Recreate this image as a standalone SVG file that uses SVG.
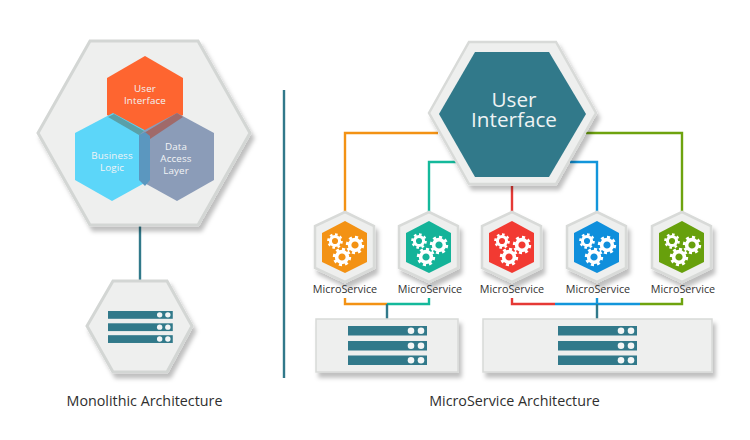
<svg xmlns="http://www.w3.org/2000/svg" xmlns:xlink="http://www.w3.org/1999/xlink" width="750" height="440" viewBox="0 0 750 440">
<style>
text{font-family:"Open Sans","Noto Sans","Liberation Sans",sans-serif;text-anchor:middle}
.plate{fill:#eeefee;stroke:#d3d6d4;stroke-width:3;stroke-linejoin:miter;filter:url(#sh)}
.ms{font-size:10.8px;fill:#333}
.title{font-size:14.3px;fill:#2f2f2f}
.hl{fill:#f2f4f6;font-size:9.8px;letter-spacing:.15px}
.bar{fill:#31798a}
.dot{fill:#f4f6f6}
.link{fill:none;stroke-width:2.4}
.rim{fill:#eeefee;stroke:#d8dad8;stroke-width:2.5;filter:url(#sh)}
</style>
<defs>
<filter id="sh" x="-20%" y="-20%" width="145%" height="145%"><feDropShadow dx="3" dy="5" stdDeviation="2.2" flood-color="#000" flood-opacity=".25"/></filter>
<g id="gear"><circle r="5.4" fill="none" stroke="#fff" stroke-width="3.6"/><circle r="7.8" fill="none" stroke="#fff" stroke-width="2.8" pathLength="16" stroke-dasharray="1 1"/></g>
<g id="gears">
<use xlink:href="#gear" transform="translate(-10,-20) scale(.85)"/>
<use xlink:href="#gear" transform="translate(10,-16)"/>
<use xlink:href="#gear" transform="translate(-3,-4)"/>
</g>
<g id="srv3">
<rect class="bar" x="0" y="0" width="79" height="9.5"/><rect class="bar" x="0" y="15" width="79" height="9.5"/><rect class="bar" x="0" y="29.5" width="79" height="9.5"/>
<circle class="dot" cx="63" cy="4.7" r="3.3"/><circle class="dot" cx="73" cy="4.7" r="3.3"/>
<circle class="dot" cx="63" cy="19.7" r="3.3"/><circle class="dot" cx="73" cy="19.7" r="3.3"/>
<circle class="dot" cx="63" cy="34.2" r="3.3"/><circle class="dot" cx="73" cy="34.2" r="3.3"/>
</g>
</defs>
<rect width="750" height="440" fill="#fff"/>
<g id="connectors">
<path d="M140 226V282M284 90V378" class="link" stroke="#31798a"/>
<path d="M438 133H345V213M345 298V304H387" class="link" stroke="#f39214"/>
<path d="M456 162H429V213M429 298V304H387" class="link" stroke="#14b99b"/>
<path d="M512 186V213M512 298V304H555" class="link" stroke="#e53935"/>
<path d="M570 162H597V213M597 298V304M555 304H640" class="link" stroke="#1296db"/>
<path d="M586 133H682V213M682 298V304H640" class="link" stroke="#6ea30f"/>
<path d="M387 304V319M597 304V319" class="link" stroke="#31798a"/>
</g>
<g id="monolith">
<polygon class="plate" points="90,41 198,41 250,133 198,225 90,225 38,133"/>
<polygon fill="#fe6530" points="145,56 183,78 183,115 150,139 139,135 107,115 107,78"/>
<polygon fill="#5cd6f9" points="113,113 150,133 150,180 112,201 75,180 75,133"/>
<polygon fill="#8b9cb8" points="177,113 214,133 214,180 177,201 139,180 139,133"/>
<polygon fill="#5aa0a8" points="108,117 114,114 144,131 139,135"/>
<polygon fill="#a06a6a" points="177,113 183,117 150,139 144,133"/>
<polygon fill="#5b97bf" points="139,135 145,132 150,136 150,180 145,186 139,180"/>
<text class="hl" x="145" y="91.500">User</text><text class="hl" x="145" y="103.500">Interface</text>
<text class="hl" x="112" y="159">Business</text><text class="hl" x="112" y="171">Logic</text>
<text class="hl" x="176" y="150">Data</text><text class="hl" x="176" y="162">Access</text><text class="hl" x="176" y="174">Layer</text>
</g>
<g id="mono-server">
<polygon class="plate" points="113,281 167,281 192,326 167,372 113,372 87,326"/>
<use xlink:href="#srv3" transform="translate(108,311) scale(.82,.82)"/>
<text class="title" x="144.500" y="406">Monolithic Architecture</text>
</g>
<g id="ui">
<polygon class="rim" points="469,42 556,42 596,113 556,184 469,184 429,113"/>
<polygon fill="#31798a" points="475,52 549,52 586,114 549,177 475,177 439,114"/>
<text x="514" y="107" font-size="20.700" fill="#eef3f4">User</text><text x="514" y="127" font-size="20.700" fill="#eef3f4">Interface</text>
</g>
<g id="ms1"><polygon class="rim" points="345,212 374,226 374,268 345,282 315,268 315,226"/>
<polygon fill="#f39214" points="345,221 367,233 367,262 345,273 322,262 322,233"/><use xlink:href="#gears" transform="translate(345,261)"/><text class="ms" x="345" y="293">MicroService</text></g>
<g id="ms2"><polygon class="rim" points="429,212 458,226 458,268 429,282 399,268 399,226"/>
<polygon fill="#14b399" points="429,221 451,233 451,262 429,273 406,262 406,233"/><use xlink:href="#gears" transform="translate(429,261)"/><text class="ms" x="430" y="293">MicroService</text></g>
<g id="ms3"><polygon class="rim" points="512,212 541,226 541,268 512,282 482,268 482,226"/>
<polygon fill="#f23a32" points="512,221 534,233 534,262 512,273 489,262 489,233"/><use xlink:href="#gears" transform="translate(512,261)"/><text class="ms" x="512" y="293">MicroService</text></g>
<g id="ms4"><polygon class="rim" points="597,212 626,226 626,268 597,282 567,268 567,226"/>
<polygon fill="#0f8fdc" points="597,221 619,233 619,262 597,273 574,262 574,233"/><use xlink:href="#gears" transform="translate(597,261)"/><text class="ms" x="598" y="293">MicroService</text></g>
<g id="ms5"><polygon class="rim" points="682,212 711,226 711,268 682,282 652,268 652,226"/>
<polygon fill="#67a00c" points="682,221 704,233 704,262 682,273 659,262 659,233"/><use xlink:href="#gears" transform="translate(682,261)"/><text class="ms" x="683" y="293">MicroService</text></g>
<g id="server-a"><rect x="316" y="319" width="142" height="53" fill="#eeefee" stroke="#d8dad8" stroke-width="1.5" filter="url(#sh)"/><use xlink:href="#srv3" transform="translate(348,326)"/></g>
<g id="server-b"><rect x="483" y="319" width="229" height="53" fill="#eeefee" stroke="#d8dad8" stroke-width="1.5" filter="url(#sh)"/><use xlink:href="#srv3" transform="translate(558,326)"/></g>
<text class="title" x="514.500" y="406">MicroService Architecture</text>
</svg>
